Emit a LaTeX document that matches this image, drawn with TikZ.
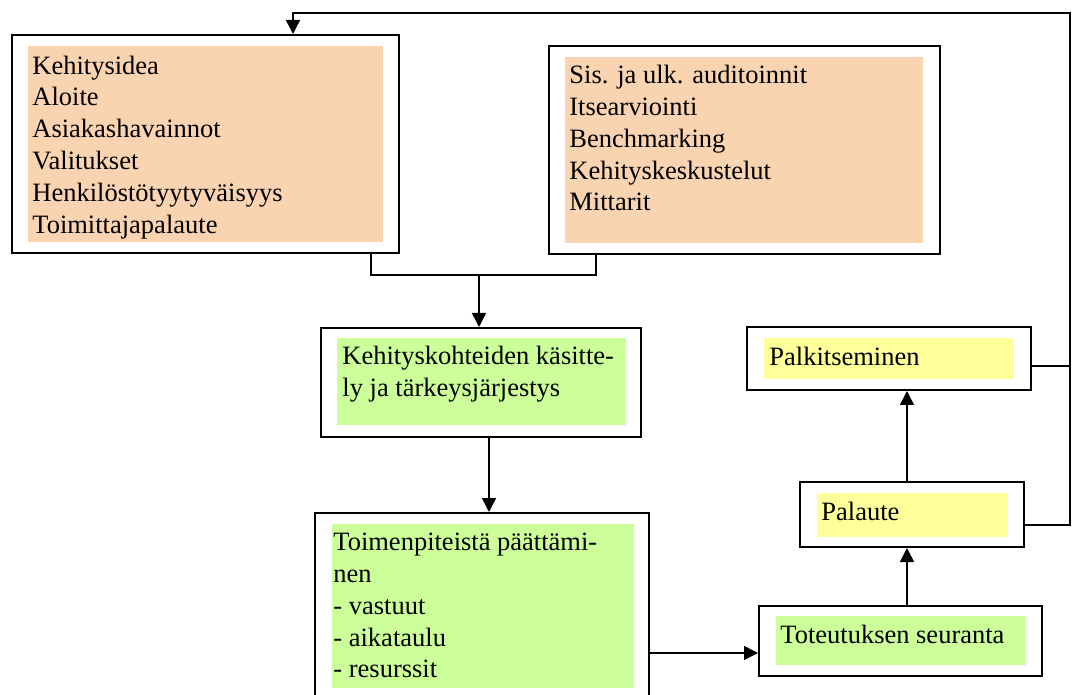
\documentclass[tikz,border=0pt]{standalone}
\usepackage{fontspec}
\setmainfont{Liberation Serif}
\usetikzlibrary{arrows.meta,fit}

\definecolor{peach}{HTML}{FAD3B1}
\definecolor{lime}{HTML}{CCFF99}
\definecolor{pale}{HTML}{FFFF99}

\tikzset{
  frame/.style={draw, line width=1pt, inner sep=0pt},
  panel/.style={fill=#1, draw=none, inner sep=0pt},
  txt/.style={anchor=north west, inner sep=0pt, align=left,
              font=\fontsize{13.25}{15.9}\selectfont},
  conn/.style={line width=0.75pt},
  arrow/.style={conn, -{Triangle[length=7pt,width=7pt]}}
}

\begin{document}
\begin{tikzpicture}[x=0.5pt, y=-0.5pt]
  \useasboundingbox (0,0) rectangle (1072,695);
  \clip (0,0) rectangle (1072,695);

  % input sources
  \node[panel=peach, fit={(28,46) (383,242)}] (b1f) {};
  \node[frame, fit={(12,35) (399,253)}] (b1) {};
  \node[txt] (b1t) at (32,51.5) {\strut Kehitysidea\\Aloite\\Asiakashavainnot\\Valitukset\\Henkilöstötyytyväisyys\\Toimittajapalaute};

  \node[panel=peach, fit={(565,57) (923,243)}] (b2f) {};
  \node[frame, fit={(549,46) (940,254)}] (b2) {};
  \node[txt] (b2t) at (569,61) {\strut Sis. ja ulk. auditoinnit\\Itsearviointi\\Benchmarking\\Kehityskeskustelut\\Mittarit};

  % processing steps
  \node[panel=lime, fit={(337,338) (626,425)}] (b3f) {};
  \node[frame, fit={(321,328) (641,437)}] (b3) {};
  \node[txt] (b3t) at (342,342) {\strut Kehityskohteiden käsitte-\\ly ja tärkeysjärjestys};

  \node[panel=lime, fit={(332,524) (634,688)}] (b4f) {};
  \node[frame, fit={(315,513) (649,730)}] (b4) {};
  \node[txt] (b4t) at (333,528) {\strut Toimenpiteistä päättämi-\\nen\\- vastuut\\- aikataulu\\- resurssit};

  \node[panel=lime, fit={(776,616) (1026,665)}] (b5f) {};
  \node[frame, fit={(759,606) (1042,676)}] (b5) {};
  \node[txt] (b5t) at (780,621) {\strut Toteutuksen seuranta};

  \node[panel=pale, fit={(817,493) (1008,537)}] (b6f) {};
  \node[frame, fit={(800,482) (1024,547)}] (b6) {};
  \node[txt] (b6t) at (821,498) {\strut Palaute};

  \node[panel=pale, fit={(764,338) (1014,379)}] (b7f) {};
  \node[frame, fit={(747,327) (1031,390)}] (b7) {};
  \node[txt] (b7t) at (769,343) {\strut Palkitseminen};

  % connectors
  \coordinate (join) at (479,275);
  \coordinate (rail) at (1070,13);

  \draw[conn] ([xshift=82.75pt]b1.south) |- (join) -| ([xshift=-74.25pt]b2.south);
  \draw[arrow] (join) -- (join |- b3.north);
  \draw[arrow] ([xshift=4pt]b3.south) -- ([xshift=4pt]b3.south |- b4.north);
  \draw[arrow] ([yshift=-6pt]b5.west -| b4.east) -- ([yshift=-6pt]b5.west);
  \draw[arrow] ([xshift=3.25pt]b5.north) -- ([xshift=3.25pt]b5.north |- b6.south);
  \draw[arrow] ([xshift=-2.5pt]b6.north) -- ([xshift=-2.5pt]b6.north |- b7.south);

  % feedback loop back to the start
  \draw[arrow] ([yshift=-5.25pt]b6.east) -| (rail) -| ([xshift=43.75pt]b1.north);
  \draw[conn] ([yshift=-3.75pt]b7.east) -- ([yshift=-3.75pt]b7.east -| rail);
\end{tikzpicture}
\end{document}
